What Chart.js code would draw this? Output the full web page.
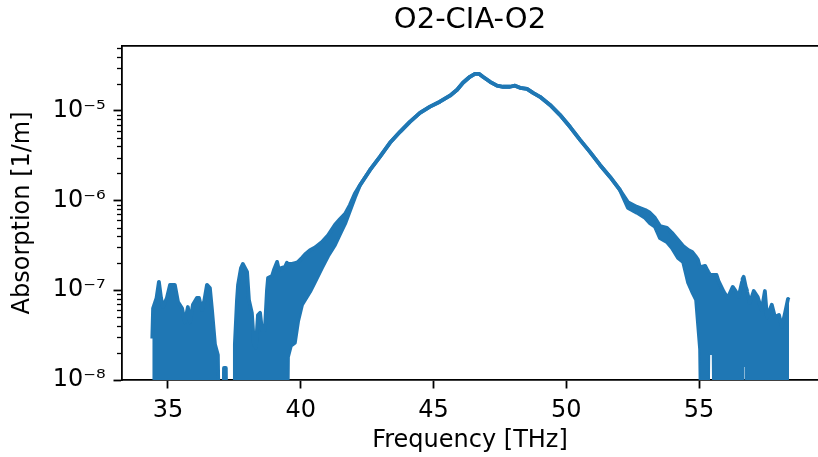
<!DOCTYPE html>
<html>
<head>
<meta charset="utf-8">
<title>O2-CIA-O2</title>
<script src="https://cdn.jsdelivr.net/npm/chart.js@4.4.1/dist/chart.umd.min.js"></script>
<style>
  html, body { margin: 0; padding: 0; background: #fff; }
  #wrap { width: 818px; height: 457px; overflow: hidden; }
</style>
</head>
<body>
<div id="wrap"><canvas id="chart"></canvas></div>
<script>
// values (log y axis)
// the trace is a noisy spectrum, so it is kept as a top and bottom edge;
// 1e-9 = below the plotted range (clipped at the axis), null = clean single line
const freqTHz = [
  34.41, 34.44, 34.57, 34.66, 34.74, 34.81, 34.96, 35.08, 35.26, 35.38,
  35.53, 35.64, 35.75, 35.83, 35.94, 36.09, 36.17, 36.28, 36.36, 36.47,
  36.58, 36.66, 36.77, 36.88, 36.94, 37.07, 37.11, 37.18, 37.22, 37.49,
  37.52, 37.60, 37.64, 37.75, 37.82, 37.90, 37.98, 38.05, 38.16, 38.24,
  38.31, 38.39, 38.47, 38.54, 38.65, 38.73, 38.77, 38.92, 38.99, 39.11,
  39.18, 39.26, 39.41, 39.48,
  39.52, 39.63, 39.78, 39.90, 40.05, 40.16, 40.35, 40.54, 40.80, 41.03,
  41.29, 41.48, 41.67, 41.85, 42.04,
  42.23, 42.61, 42.98, 43.36, 43.74, 44.11, 44.49, 44.87, 45.24, 45.62,
  45.89, 46.11, 46.37, 46.56, 46.71, 46.86, 47.13, 47.39, 47.62, 47.88,
  48.07, 48.26, 48.52, 48.75, 49.01, 49.39, 49.76, 50.14, 50.52, 50.89,
  51.27, 51.65, 52.02,
  52.32, 52.66, 52.97, 53.15, 53.34, 53.53, 53.79, 53.98, 54.21, 54.40,
  54.59, 54.74, 54.89, 54.96, 55.04,
  55.10, 55.23, 55.31, 55.35, 55.42, 55.55, 55.59, 55.66, 55.73, 55.93,
  56.08, 56.27, 56.38, 56.49, 56.62, 56.64, 56.68, 56.76, 56.80, 56.81,
  56.91, 57.06, 57.21, 57.36, 57.48, 57.56, 57.74, 57.86, 58.01, 58.12,
  58.24, 58.35, 58.39
];

const absTop = [
  2.9e-8, 6.3e-8, 8.2e-8, 1.24e-7, 8.2e-8, 6.5e-8, 8.2e-8, 1.15e-7, 1.15e-7, 7.4e-8,
  6.3e-8, 4.4e-8, 6.5e-8, 4.4e-8, 6.9e-8, 8.2e-8, 8.2e-8, 6.0e-8, 7.4e-8, 1.15e-7,
  1.06e-7, 6.0e-8, 2.5e-8, 1.9e-8, 1e-9, 1e-9, 1.36e-8, 1.36e-8, 1e-9, 1e-9,
  2.5e-8, 7.8e-8, 1.15e-7, 1.77e-7, 1.96e-7, 1.77e-7, 1.6e-7, 7.8e-8, 5.6e-8, 2.5e-8,
  2.3e-8, 5.3e-8, 5.6e-8, 3.6e-8, 3.6e-8, 1.01e-7, 1.37e-7, 1.44e-7, 1.68e-7, 2.07e-7,
  1.68e-7, 1.77e-7, 1.82e-7, 2.02e-7,
  1.96e-7, 1.96e-7, 2.0e-7, 2.07e-7, 2.3e-7, 2.5e-7, 2.8e-7, 3.0e-7, 3.45e-7, 4.1e-7,
  5.35e-7, 6.2e-7, 7.1e-7, 8.9e-7, 1.2e-6,
  1.48e-6, 2.19e-6, 3.06e-6, 4.39e-6, 5.82e-6, 7.52e-6, 9.48e-6, 1.11e-5, 1.26e-5, 1.47e-5,
  1.71e-5, 2.05e-5, 2.39e-5, 2.58e-5, 2.58e-5, 2.39e-5, 2.10e-5, 1.90e-5, 1.85e-5, 1.85e-5,
  1.90e-5, 1.80e-5, 1.75e-5, 1.58e-5, 1.43e-5, 1.16e-5, 9.0e-6, 6.62e-6, 4.74e-6, 3.48e-6,
  2.49e-6, 1.83e-6, 1.31e-6,
  9.6e-7, 8.5e-7, 7.85e-7, 7.3e-7, 6.4e-7, 5.2e-7, 4.95e-7, 4.36e-7, 3.64e-7, 3.12e-7,
  2.81e-7, 2.67e-7, 2.35e-7, 2.18e-7, 1.77e-7,
  1.82e-7, 1.87e-7, 1.68e-7, 1.60e-7, 1.48e-7, 1.48e-7, 1.48e-7, 1.48e-7, 1.27e-7, 9.6e-8,
  8.2e-8, 1.09e-7, 9.8e-8, 8.4e-8, 1.24e-7, 1.34e-7, 1.41e-7, 1.09e-7, 1.01e-7, 9.6e-8,
  7.2e-8, 9.8e-8, 8.4e-8, 6.0e-8, 9.8e-8, 5.0e-8, 6.9e-8, 5.0e-8, 5.3e-8, 3.9e-8,
  5.6e-8, 8.0e-8, 7.8e-8
];

const absBottom = [
  1e-9, 1e-9, 1e-9, 1e-9, 1e-9, 1e-9, 1e-9, 1e-9, 1e-9, 1e-9,
  1e-9, 1e-9, 1e-9, 1e-9, 1e-9, 1e-9, 1e-9, 1e-9, 1e-9, 1e-9,
  1e-9, 1e-9, 1e-9, 1e-9, 1e-9, 1e-9, 1e-9, 1e-9, 1e-9, 1e-9,
  1e-9, 1e-9, 1e-9, 1e-9, 1e-9, 1e-9, 1e-9, 1e-9, 1e-9, 1e-9,
  1e-9, 1e-9, 1e-9, 1e-9, 1e-9, 1e-9, 1e-9, 1e-9, 1e-9, 1e-9,
  1e-9, 1e-9, 1e-9, 1e-9,
  1.8e-8, 2.4e-8, 2.6e-8, 4.5e-8, 6.9e-8, 7.8e-8, 9.6e-8, 1.24e-7, 1.77e-7, 2.4e-7,
  3.2e-7, 4.2e-7, 5.5e-7, 7.6e-7, 1.08e-6,
  null, null, null, null, null, null, null, null, null, null,
  null, null, null, null, null, null, null, null, null, null,
  null, null, null, null, null, null, null, null, null, null,
  null, null, null,
  8.3e-7, 7.3e-7, 6.4e-7, 5.6e-7, 5.1e-7, 3.8e-7, 3.45e-7, 2.96e-7, 2.29e-7, 2.07e-7,
  1.21e-7, 9.6e-8, 7.8e-8, 4.3e-8, 2.2e-8,
  1e-9, 1e-9, 1e-9, 2.0e-8, 2.0e-8, 2.0e-8, 1e-9, 1e-9, 1e-9, 1e-9,
  1e-9, 1e-9, 1e-9, 1e-9, 1e-9, 1.47e-8, 1.47e-8, 1.47e-8, 1.47e-8, 1e-9,
  1e-9, 1e-9, 1e-9, 1e-9, 1e-9, 1e-9, 1e-9, 1e-9, 1e-9, 1e-9,
  1e-9, 1e-9, 1e-9
];

const xTicks = [35, 40, 45, 50, 55];
const yTicks = [1e-8, 1e-7, 1e-6, 1e-5];

const BLUE = "#1f77b4";
const FONT = "'DejaVu Sans', sans-serif";

const topPoints = freqTHz.map((f, i) => ({ x: f, y: absTop[i] }));
const bottomPoints = freqTHz.map((f, i) => ({ x: f, y: absBottom[i] === null ? absTop[i] : absBottom[i] }));

const SUP = { "-": "\u207b", "0": "\u2070", "1": "\u00b9", "2": "\u00b2", "3": "\u00b3",
  "4": "\u2074", "5": "\u2075", "6": "\u2076", "7": "\u2077", "8": "\u2078", "9": "\u2079" };

function powLabel(v) {
  const e = Math.round(Math.log10(v));
  return "10" + String(e).split("").map((c) => SUP[c]).join("");
}

// minor log ticks + top spine (matplotlib look)
const axesExtras = {
  id: "axesExtras",
  afterDraw(chart) {
    const { ctx, chartArea } = chart;
    const y = chart.scales.y;
    ctx.save();
    ctx.strokeStyle = "#000";
    ctx.lineWidth = 1.3;
    for (let e = -8; e <= -5; e++) {
      for (let m = 2; m <= 9; m++) {
        const v = m * Math.pow(10, e);
        if (v > y.max) continue;
        const py = Math.round(y.getPixelForValue(v)) + 0.5;
        ctx.beginPath();
        ctx.moveTo(chartArea.left, py);
        ctx.lineTo(chartArea.left - 5, py);
        ctx.stroke();
      }
    }
    ctx.lineWidth = 1.8;
    ctx.beginPath();
    ctx.moveTo(chartArea.left - 0.9, chartArea.top);
    ctx.lineTo(chartArea.right, chartArea.top);
    ctx.stroke();
    ctx.restore();
  },
};

const lineStyle = {
  borderColor: BLUE,
  backgroundColor: BLUE,
  borderWidth: 3.8,
  borderJoinStyle: "round",
  pointRadius: 0,
  tension: 0,
  clip: 0,
};

new Chart(document.getElementById("chart"), {
  type: "line",
  data: {
    datasets: [
      { ...lineStyle, label: "top", data: topPoints, fill: "+1" },
      { ...lineStyle, label: "bottom", data: bottomPoints, fill: false },
    ],
  },
  options: {
    responsive: true,
    maintainAspectRatio: false,
    animation: false,
    layout: { padding: 0 },
    plugins: {
      legend: { display: false },
      tooltip: { enabled: false },
      title: {
        display: true,
        text: "O2-CIA-O2",
        fullSize: false,
        color: "#000",
        font: { family: FONT, size: 29, weight: "normal" },
        padding: { top: 3, bottom: 8 },
      },
    },
    scales: {
      x: {
        type: "linear",
        min: 33.27,
        max: 59.48,
        z: 1,
        afterBuildTicks: (s) => { s.ticks = xTicks.map((v) => ({ value: v })); },
        afterFit: (s) => { s.height = 77; },
        ticks: { color: "#000", font: { family: FONT, size: 24 }, padding: 8, maxRotation: 0, autoSkip: false },
        grid: { drawOnChartArea: false, tickLength: 8.5, tickWidth: 1.8, tickColor: "#000" },
        border: { color: "#000", width: 1.8 },
        title: {
          display: true,
          text: "Frequency [THz]",
          color: "#000",
          font: { family: FONT, size: 24 },
          padding: { top: 0, bottom: 2 },
        },
      },
      y: {
        type: "logarithmic",
        min: 1e-8,
        max: 5.29e-5,
        z: 1,
        afterBuildTicks: (s) => { s.ticks = yTicks.map((v) => ({ value: v })); },
        afterFit: (s) => { s.width = 122; },
        ticks: { color: "#000", font: { family: FONT, size: 24 }, padding: 8, autoSkip: false, callback: (v) => powLabel(v) },
        grid: { drawOnChartArea: false, tickLength: 8.5, tickWidth: 1.8, tickColor: "#000" },
        border: { color: "#000", width: 1.8 },
        title: {
          display: true,
          text: "Absorption [1/m]",
          color: "#000",
          font: { family: FONT, size: 24 },
          padding: { top: 8, bottom: 0 },
        },
      },
    },
  },
  plugins: [axesExtras],
});
</script>
</body>
</html>
